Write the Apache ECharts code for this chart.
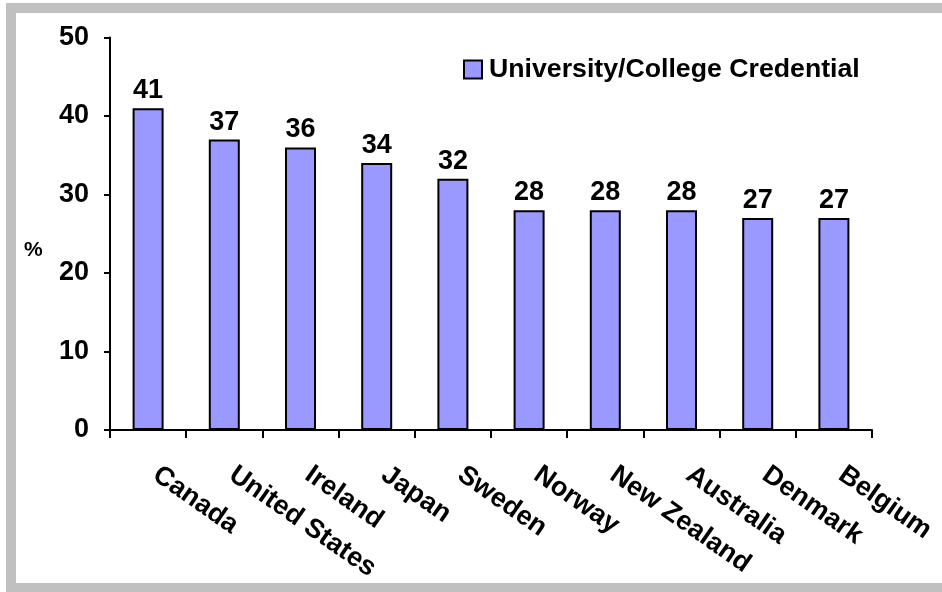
<!DOCTYPE html>
<html>
<head>
<meta charset="utf-8">
<script src="https://cdn.jsdelivr.net/npm/echarts@6/dist/echarts.min.js"></script>
<style>
  html, body { margin: 0; padding: 0; background: #ffffff; }
  #chart { width: 942px; height: 592px; }
</style>
</head>
<body>
<div id="chart"></div>
<script>
// Share of population holding a university/college credential, by country
const countries = ['Canada', 'United States', 'Ireland', 'Japan', 'Sweden',
                   'Norway', 'New Zealand', 'Australia', 'Denmark', 'Belgium'];
const credentialPct = [41, 37, 36, 34, 32, 28, 28, 28, 27, 27];
const seriesName = 'University/College Credential';
const yTicks = { min: 0, max: 50, interval: 10 };

const FONT = '"Liberation Sans", Arial, sans-serif';
const frameGrey = '#c0c0c0';

const chart = echarts.init(document.getElementById('chart'), null, { renderer: 'canvas' });

chart.setOption({
  backgroundColor: '#ffffff',
  animation: false,
  textStyle: { fontFamily: FONT },
  grid: { left: 110, right: 70, top: 37.5, bottom: 162, containLabel: false },
  legend: {
    show: true,
    left: 458,
    top: 51,
    itemWidth: 18,
    itemHeight: 18,
    itemGap: 5,
    icon: 'rect',
    data: [seriesName],
    textStyle: { fontFamily: FONT, fontWeight: 'bold', fontSize: 26.7, color: '#000', padding: [0, 0, 0, 2] },
    itemStyle: { borderColor: '#000', borderWidth: 2 }
  },
  xAxis: {
    type: 'category',
    data: countries,
    axisLine: { lineStyle: { color: '#000', width: 2 } },
    axisTick: { show: true, length: 8, lineStyle: { color: '#000', width: 2 } },
    axisLabel: {
      interval: 0,
      rotate: -35,
      margin: 37,
      padding: [0, 0, 0, 9],
      fontFamily: FONT,
      fontWeight: 'bold',
      fontSize: 27,
      color: '#000'
    },
    splitLine: { show: false }
  },
  yAxis: {
    type: 'value',
    min: yTicks.min,
    max: yTicks.max,
    interval: yTicks.interval,
    axisLine: { show: true, lineStyle: { color: '#000', width: 2 } },
    axisTick: { show: true, length: 6, lineStyle: { color: '#000', width: 2 } },
    axisLabel: {
      margin: 21,
      fontFamily: FONT,
      fontWeight: 'bold',
      fontSize: 27,
      color: '#000'
    },
    splitLine: { show: false }
  },
  series: [{
    name: seriesName,
    type: 'bar',
    data: credentialPct,
    barWidth: 31,
    itemStyle: { color: '#9999ff', borderColor: '#000', borderWidth: 2 },
    label: {
      show: true,
      position: 'top',
      distance: 4,
      fontFamily: FONT,
      fontWeight: 'bold',
      fontSize: 27,
      color: '#000'
    }
  }],
  graphic: [
    // grey frame around the plot area
    { type: 'rect', silent: true, shape: { x: 6, y: 3, width: 936, height: 10 }, style: { fill: frameGrey } },
    { type: 'rect', silent: true, shape: { x: 6, y: 3, width: 10, height: 589 }, style: { fill: frameGrey } },
    { type: 'rect', silent: true, shape: { x: 6, y: 583, width: 936, height: 9 }, style: { fill: frameGrey } },
    // y-axis unit
    {
      type: 'text', silent: true, left: 24, top: 240,
      style: { text: '%', fontFamily: FONT, fontWeight: 'bold', fontSize: 21, fill: '#000' }
    }
  ]
});
</script>
</body>
</html>
